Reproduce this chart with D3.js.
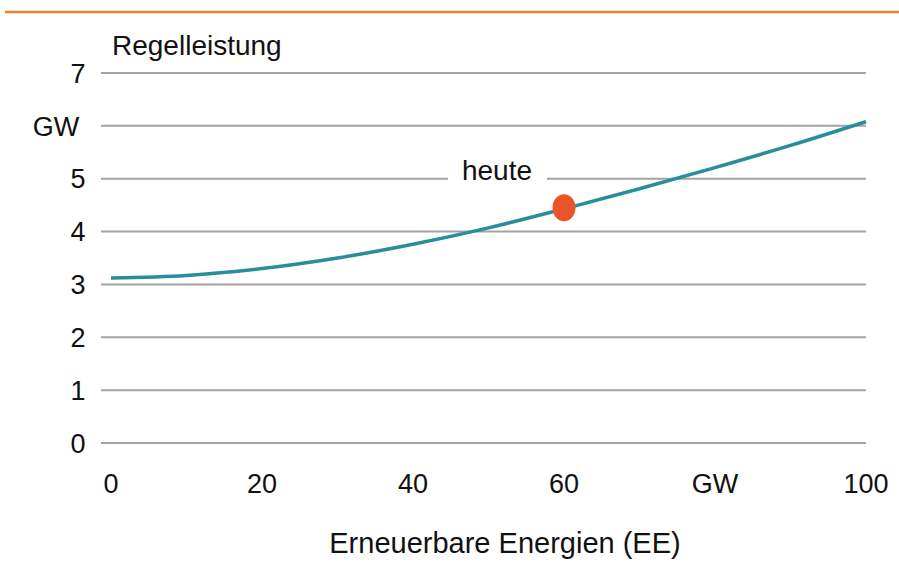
<!DOCTYPE html>
<meta charset="utf-8">
<style>
body { margin: 0; background: #fff; }
text { font-family: "Liberation Sans", Arial, sans-serif; fill: #111; }
.grid line { stroke: #a3a3a3; stroke-width: 2px; }
.curve { fill: none; stroke: #2a8d9b; stroke-width: 3.5px; }
</style>
<body>
<script src="https://d3js.org/d3.v7.min.js"></script>
<script>

// data
var eeValues = [0, 10, 20, 30, 40, 50, 60, 70, 80, 90, 100];
var regelValues = [3.12, 3.17, 3.30, 3.50, 3.76, 4.07, 4.43, 4.81, 5.21, 5.63, 6.08];
var yTicks = [0, 1, 2, 3, 4, 5, 6, 7];
var yTickLabels = ["0", "1", "2", "3", "4", "5", "GW", "7"];
var xTicks = [0, 20, 40, 60, 80, 100];
var xTickLabels = ["0", "20", "40", "60", "GW", "100"];
var today = {ee: 60, value: 4.45, label: "heute"};

var width = 899, height = 572;

var svg = d3.select("body").append("svg")
    .attr("width", width)
    .attr("height", height);

var x = d3.scaleLinear().domain([0, 100]).range([111, 866]);
var y = d3.scaleLinear().domain([0, 7]).range([443, 73]);

// orange rule on top
svg.append("line")
    .attr("x1", 5).attr("x2", width)
    .attr("y1", 12).attr("y2", 12)
    .style("stroke", "#ec8228")
    .style("stroke-width", 2.5);

// horizontal grid
svg.append("g")
    .attr("class", "grid")
    .selectAll("line")
    .data(yTicks)
  .enter().append("line")
    .attr("x1", 101).attr("x2", 866)
    .attr("y1", function(d) { return y(d); })
    .attr("y2", function(d) { return y(d); });

// y labels
svg.append("g")
    .selectAll("text")
    .data(yTicks)
  .enter().append("text")
    .attr("x", function(d, i) { return yTickLabels[i] == "GW" ? 56 : 78; })
    .attr("y", function(d) { return y(d); })
    .attr("dy", "0.36em")
    .style("text-anchor", "middle")
    .style("font-size", "27px")
    .text(function(d, i) { return yTickLabels[i]; });

// x labels
svg.append("g")
    .selectAll("text")
    .data(xTicks)
  .enter().append("text")
    .attr("x", function(d) { return x(d); })
    .attr("y", 493)
    .style("text-anchor", "middle")
    .style("font-size", "27px")
    .text(function(d, i) { return xTickLabels[i]; });

// title and axis label
svg.append("text")
    .attr("x", 112).attr("y", 55)
    .style("font-size", "28px")
    .text("Regelleistung");

svg.append("text")
    .attr("x", 505).attr("y", 553)
    .style("text-anchor", "middle")
    .style("font-size", "29px")
    .text("Erneuerbare Energien (EE)");

// "heute" label with white box breaking the grid line
svg.append("rect")
    .attr("x", x(today.ee) - 116).attr("y", y(5) - 4)
    .attr("width", 99).attr("height", 10)
    .style("fill", "#fff");

svg.append("text")
    .attr("x", x(today.ee) - 67).attr("y", y(5) + 1)
    .style("text-anchor", "middle")
    .style("font-size", "28px")
    .text(today.label);

// curve
var line = d3.line()
    .x(function(d, i) { return x(eeValues[i]); })
    .y(function(d) { return y(d); })
    .curve(d3.curveMonotoneX);

svg.append("path")
    .datum(regelValues)
    .attr("class", "curve")
    .attr("d", line);

// today marker
svg.append("ellipse")
    .attr("cx", x(today.ee)).attr("cy", y(today.value))
    .attr("rx", 11.5).attr("ry", 13.5)
    .style("fill", "#e8552a");

</script>
</body>
